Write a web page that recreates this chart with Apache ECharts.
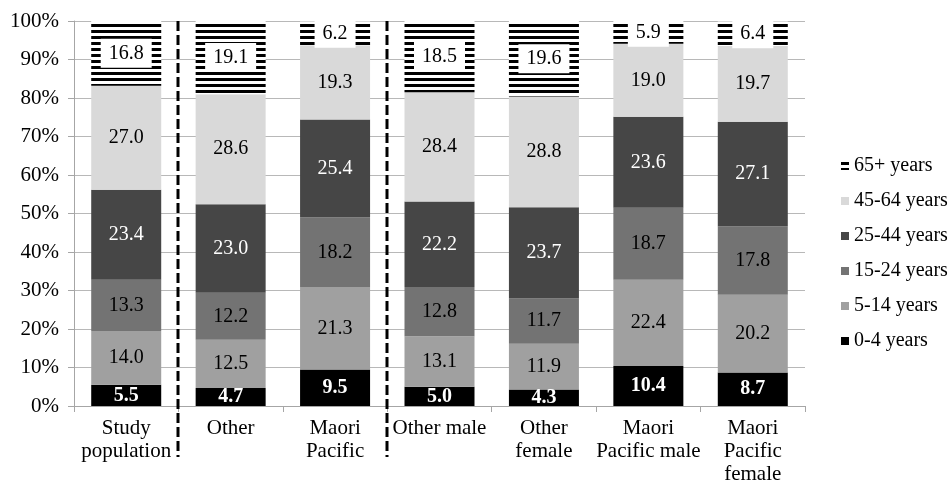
<!DOCTYPE html>
<html>
<head>
<meta charset="utf-8">
<script src="https://cdn.jsdelivr.net/npm/echarts@6/dist/echarts.min.js"></script>
<style>
html,body{margin:0;padding:0;background:#fff;}
#main{width:950px;height:486px;}
</style>
</head>
<body>
<div id="main"></div>
<script>
var categories = ['Study\npopulation', 'Other', 'Maori\nPacific', 'Other male', 'Other\nfemale', 'Maori\nPacific male', 'Maori\nPacific\nfemale'];
var age0_4   = [5.5, 4.7, 9.5, 5.0, 4.3, 10.4, 8.7];
var age5_14  = [14.0, 12.5, 21.3, 13.1, 11.9, 22.4, 20.2];
var age15_24 = [13.3, 12.2, 18.2, 12.8, 11.7, 18.7, 17.8];
var age25_44 = [23.4, 23.0, 25.4, 22.2, 23.7, 23.6, 27.1];
var age45_64 = [27.0, 28.6, 19.3, 28.4, 28.8, 19.0, 19.7];
var age65    = [16.8, 19.1, 6.2, 18.5, 19.6, 5.9, 6.4];
var seriesNames = ['0-4 years', '5-14 years', '15-24 years', '25-44 years', '45-64 years', '65+ years'];
var yTicks = [0, 10, 20, 30, 40, 50, 60, 70, 80, 90, 100];
var separatorsAfter = [0, 2];

var FONT = 'Liberation Serif';

var pc = document.createElement('canvas');
pc.width = 6; pc.height = 6;
var pctx = pc.getContext('2d');
pctx.fillStyle = '#ffffff'; pctx.fillRect(0, 0, 6, 6);
pctx.fillStyle = '#000000'; pctx.fillRect(0, 0, 6, 3);
var stripe = { image: pc, repeat: 'repeat' };

var seriesData = [age0_4, age5_14, age15_24, age25_44, age45_64, age65];
var colors = ['#000000', '#a0a0a0', '#737373', '#464646', '#d9d9d9', stripe];
var labelColors = ['#ffffff', '#000000', '#000000', '#ffffff', '#000000', '#000000'];

var series = seriesData.map(function (d, i) {
  var lab = {
    show: true,
    position: 'inside',
    fontFamily: FONT,
    fontSize: 20,
    color: labelColors[i],
    fontWeight: i === 0 ? 'bold' : 'normal',
    formatter: function (p) { return p.value.toFixed(1); }
  };
  if (i === 5) {
    lab.backgroundColor = '#ffffff';
    lab.padding = [5, 8, 4, 8];
  }
  return {
    name: seriesNames[i],
    type: 'bar',
    stack: 'total',
    barWidth: 70,
    data: d,
    itemStyle: { color: colors[i] },
    label: lab,
    emphasis: { disabled: true }
  };
});

var chart = echarts.init(document.getElementById('main'));
chart.setOption({
  animation: false,
  backgroundColor: '#ffffff',
  grid: { left: 74, right: 145, top: 21, bottom: 80, containLabel: false },
  legend: {
    orient: 'vertical',
    left: 836,
    top: 151,
    itemWidth: 8,
    itemHeight: 8,
    itemGap: 15,
    icon: 'rect',
    textStyle: { fontFamily: FONT, fontSize: 20, color: '#000' },
    data: seriesNames.slice().reverse()
  },
  xAxis: {
    type: 'category',
    data: categories,
    axisLine: { lineStyle: { color: '#a6a6a6', width: 1 } },
    axisTick: { show: true, length: 6, lineStyle: { color: '#a6a6a6' } },
    axisLabel: { fontFamily: FONT, fontSize: 21, color: '#000', lineHeight: 23, margin: 11, interval: 0 }
  },
  yAxis: {
    type: 'value',
    min: 0, max: 100, interval: 10,
    axisLine: { show: true, lineStyle: { color: '#a6a6a6' } },
    axisTick: { show: true, length: 6, lineStyle: { color: '#a6a6a6' } },
    splitLine: { lineStyle: { color: '#b8b8b8', width: 1 } },
    axisLabel: {
      fontFamily: FONT, fontSize: 21, color: '#000', margin: 15,
      formatter: function (v) { return yTicks.indexOf(v) >= 0 ? v + '%' : ''; }
    }
  },
  series: series
});

var topY = chart.convertToPixel({ yAxisIndex: 0 }, 100);
var botY = chart.convertToPixel({ yAxisIndex: 0 }, 0);
var graphics = separatorsAfter.map(function (idx) {
  var a = chart.convertToPixel({ xAxisIndex: 0 }, idx);
  var b = chart.convertToPixel({ xAxisIndex: 0 }, idx + 1);
  var x = Math.round((a + b) / 2);
  return {
    type: 'line',
    shape: { x1: x, y1: topY, x2: x, y2: botY + 51 },
    style: { stroke: '#000', lineWidth: 3, lineDash: [10, 4] },
    z: 100
  };
});
chart.setOption({ graphic: graphics });
</script>
</body>
</html>
